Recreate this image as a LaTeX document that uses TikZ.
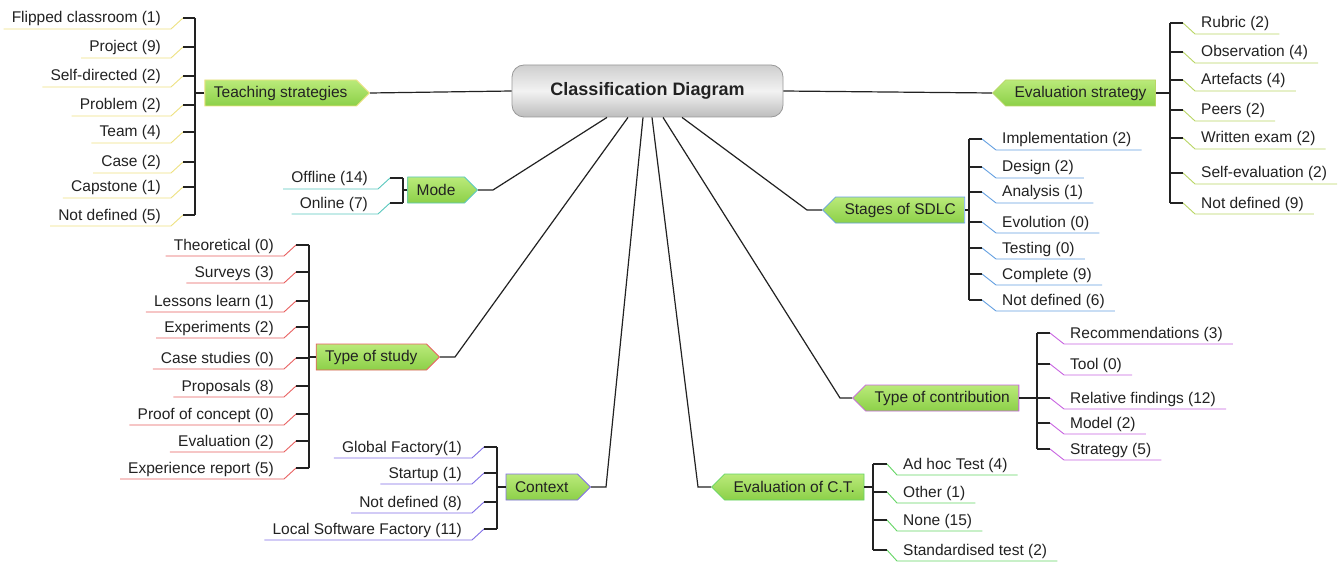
\documentclass[tikz,border=0pt]{standalone}
\usepackage{fontspec}
\setmainfont{Liberation Sans}
\usetikzlibrary{shapes.symbols,calc}

\definecolor{ink}{RGB}{34,34,34}
\definecolor{cTeach}{RGB}{238,226,130}
\definecolor{cMode}{RGB}{90,200,190}
\definecolor{cStudy}{RGB}{232,96,96}
\definecolor{cCtx}{RGB}{128,110,230}
\definecolor{cEvct}{RGB}{100,214,100}
\definecolor{cContr}{RGB}{200,100,225}
\definecolor{cSdlc}{RGB}{100,160,225}
\definecolor{cEvst}{RGB}{185,214,100}
\definecolor{gTop}{RGB}{186,234,122}
\definecolor{gBot}{RGB}{140,208,72}

\tikzset{
  every node/.style={font=\fontsize{15.5bp}{18bp}\selectfont, text=ink},
  link/.style={draw=ink, line width=1.2bp},
  leaf/.style={inner sep=0pt, text height=11bp, text depth=3.5bp},
  uline/.style={line width=0.9bp},
  branch/.style={shape=signal, signal pointer angle=90, top color=gTop,
    bottom color=gBot, line width=0.8bp, minimum height=26bp,
    inner xsep=9bp, inner ysep=3bp},
  toright/.style={branch, signal to=east},
  toleft/.style={branch, signal to=west},
  hub/.style={rounded corners=12bp, draw=black!40, line width=0.8bp,
    minimum width=271bp, minimum height=52bp,
    top color=black!19, bottom color=black!26, middle color=black!5,
    font=\fontsize{18bp}{22bp}\selectfont\bfseries}
}

% leaf on the left of its bar: text, underline running into the tick
\newcommand\LLeaf[4]{%
  \coordinate (#1t) at (\tx,#2);
  \node[leaf, anchor=base east] (#1) at ({\tx-22},{#2+5}) {#4};
  \draw[uline,#3] ($(#1.base west)+(-8,6)$) -- ($(#1.base east)+(10,6)$) -- (#1t);
  \draw[link] (#1t) -- ++({\bx-\tx},0);
}
% leaf on the right of its bar
\newcommand\RLeaf[4]{%
  \coordinate (#1t) at (\te,#2);
  \node[leaf, anchor=base west] (#1) at ({\te+\off},{#2+5}) {#4};
  \draw[uline,#3] (#1t) -- ($(#1.base west)+(-6,6)$) -- ($(#1.base east)+(10,6)$);
  \draw[link] (#1t) -- ++({\bx-\te},0);
}

\begin{document}
\begin{tikzpicture}[x=1bp,y=-1bp]
\fill[white] (0,0) rectangle (1343,563);
\useasboundingbox (0,0) rectangle (1343,563);

% centre
\node[hub] (hub) at (647.5,91) {Classification Diagram};

% ---------- Teaching strategies ----------
\node[toright, draw=cTeach, anchor=east] (ts) at (370,93) {Teaching strategies};
\def\bx{195}\def\tx{183}
\LLeaf{flip}{18}{cTeach}{Flipped classroom (1)}
\LLeaf{proj}{47}{cTeach}{Project (9)}
\LLeaf{selfd}{76}{cTeach}{Self-directed (2)}
\LLeaf{prob}{105}{cTeach}{Problem (2)}
\LLeaf{team}{132}{cTeach}{Team (4)}
\LLeaf{case}{162}{cTeach}{Case (2)}
\LLeaf{caps}{187}{cTeach}{Capstone (1)}
\LLeaf{tnd}{215}{cTeach}{Not defined (5)}
\coordinate (tsbar) at (\bx,93);
\draw[link] (flipt -| tsbar) -- (tndt -| tsbar);
\draw[link] (ts.west) -- (tsbar);
\draw[link] (ts.east) -- (hub.west);

% ---------- Mode ----------
\node[toright, draw=cMode, anchor=east] (mode) at (478,190) {Mode};
\def\bx{403}\def\tx{390}
\LLeaf{off}{178}{cMode}{Offline (14)}
\LLeaf{onl}{203}{cMode}{Online (7)}
\coordinate (modebar) at (\bx,190);
\draw[link] (offt -| modebar) -- (onlt -| modebar);
\draw[link] (mode.west) -- (modebar);
\draw[link] (mode.east) -- ++(15,0) -- ([xshift=-40.5bp]hub.south);

% ---------- Type of study ----------
\node[toright, draw=cStudy, anchor=east] (study) at (440,357) {Type of study};
\def\bx{309}\def\tx{296}
\LLeaf{theo}{245}{cStudy}{Theoretical (0)}
\LLeaf{surv}{272}{cStudy}{Surveys (3)}
\LLeaf{less}{301}{cStudy}{Lessons learn (1)}
\LLeaf{expe}{327}{cStudy}{Experiments (2)}
\LLeaf{cases}{358}{cStudy}{Case studies (0)}
\LLeaf{prop}{386}{cStudy}{Proposals (8)}
\LLeaf{proof}{414}{cStudy}{Proof of concept (0)}
\LLeaf{eval}{441}{cStudy}{Evaluation (2)}
\LLeaf{expr}{468}{cStudy}{Experience report (5)}
\coordinate (studybar) at (\bx,357);
\draw[link] (theot -| studybar) -- (exprt -| studybar);
\draw[link] (study.west) -- (studybar);
\draw[link] (study.east) -- ++(15,0) -- ([xshift=-19.5bp]hub.south);

% ---------- Context ----------
\node[toright, draw=cCtx, anchor=east] (ctx) at (591,487) {Context};
\def\bx{497}\def\tx{484}
\LLeaf{glob}{447}{cCtx}{Global Factory(1)}
\LLeaf{start}{473}{cCtx}{Startup (1)}
\LLeaf{cnd}{502}{cCtx}{Not defined (8)}
\LLeaf{local}{529}{cCtx}{Local Software Factory (11)}
\coordinate (ctxbar) at (\bx,487);
\draw[link] (globt -| ctxbar) -- (localt -| ctxbar);
\draw[link] (ctx.west) -- (ctxbar);
\draw[link] (ctx.east) -- ++(15,0) -- ([xshift=-4.5bp]hub.south);

% ---------- Evaluation of C.T. ----------
\node[toleft, draw=cEvct, anchor=west] (evct) at (711,487) {Evaluation of C.T.};
\def\bx{873}\def\te{887}\def\off{16}
\RLeaf{adhoc}{464}{cEvct}{Ad hoc Test (4)}
\RLeaf{other}{492}{cEvct}{Other (1)}
\RLeaf{none}{520}{cEvct}{None (15)}
\RLeaf{std}{550}{cEvct}{Standardised test (2)}
\coordinate (evctbar) at (\bx,487);
\draw[link] (adhoct -| evctbar) -- (stdt -| evctbar);
\draw[link] (evct.east) -- (evctbar);
\draw[link] (evct.west) -- ++(-13,0) -- ([xshift=4.5bp]hub.south);

% ---------- Type of contribution ----------
\node[toleft, draw=cContr, anchor=west] (contr) at (852,398) {Type of contribution};
\def\bx{1037}\def\te{1050}\def\off{20}
\RLeaf{rec}{333}{cContr}{Recommendations (3)}
\RLeaf{tool}{364}{cContr}{Tool (0)}
\RLeaf{rel}{398}{cContr}{Relative findings (12)}
\RLeaf{model}{423}{cContr}{Model (2)}
\RLeaf{strat}{449}{cContr}{Strategy (5)}
\coordinate (contrbar) at (\bx,398);
\draw[link] (rect -| contrbar) -- (stratt -| contrbar);
\draw[link] (contr.east) -- (contrbar);
\draw[link] (contr.west) -- ++(-12,0) -- ([xshift=15.5bp]hub.south);

% ---------- Stages of SDLC ----------
\node[toleft, draw=cSdlc, anchor=west] (sdlc) at (822,210) {Stages of SDLC};
\def\bx{969}\def\te{982}\def\off{20}
\RLeaf{impl}{139}{cSdlc}{Implementation (2)}
\RLeaf{des}{167}{cSdlc}{Design (2)}
\RLeaf{ana}{192}{cSdlc}{Analysis (1)}
\RLeaf{evo}{222}{cSdlc}{Evolution (0)}
\RLeaf{test}{248}{cSdlc}{Testing (0)}
\RLeaf{comp}{274}{cSdlc}{Complete (9)}
\RLeaf{snd}{300}{cSdlc}{Not defined (6)}
\coordinate (sdlcbar) at (\bx,210);
\draw[link] (implt -| sdlcbar) -- (sndt -| sdlcbar);
\draw[link] (sdlc.east) -- (sdlcbar);
\draw[link] (sdlc.west) -- ++(-15,0) -- ([xshift=34.5bp]hub.south);

% ---------- Evaluation strategy ----------
\node[toleft, draw=cEvst, anchor=west] (es) at (992,93) {Evaluation strategy};
\def\bx{1170}\def\te{1183}\def\off{18}
\RLeaf{rub}{23}{cEvst}{Rubric (2)}
\RLeaf{obs}{52}{cEvst}{Observation (4)}
\RLeaf{art}{80}{cEvst}{Artefacts (4)}
\RLeaf{peer}{110}{cEvst}{Peers (2)}
\RLeaf{writ}{138}{cEvst}{Written exam (2)}
\RLeaf{selfe}{173}{cEvst}{Self-evaluation (2)}
\RLeaf{end}{203}{cEvst}{Not defined (9)}
\coordinate (esbar) at (\bx,93);
\draw[link] (rubt -| esbar) -- (endt -| esbar);
\draw[link] (es.east) -- (esbar);
\draw[link] (hub.east) -- (es.west);
\end{tikzpicture}
\end{document}
